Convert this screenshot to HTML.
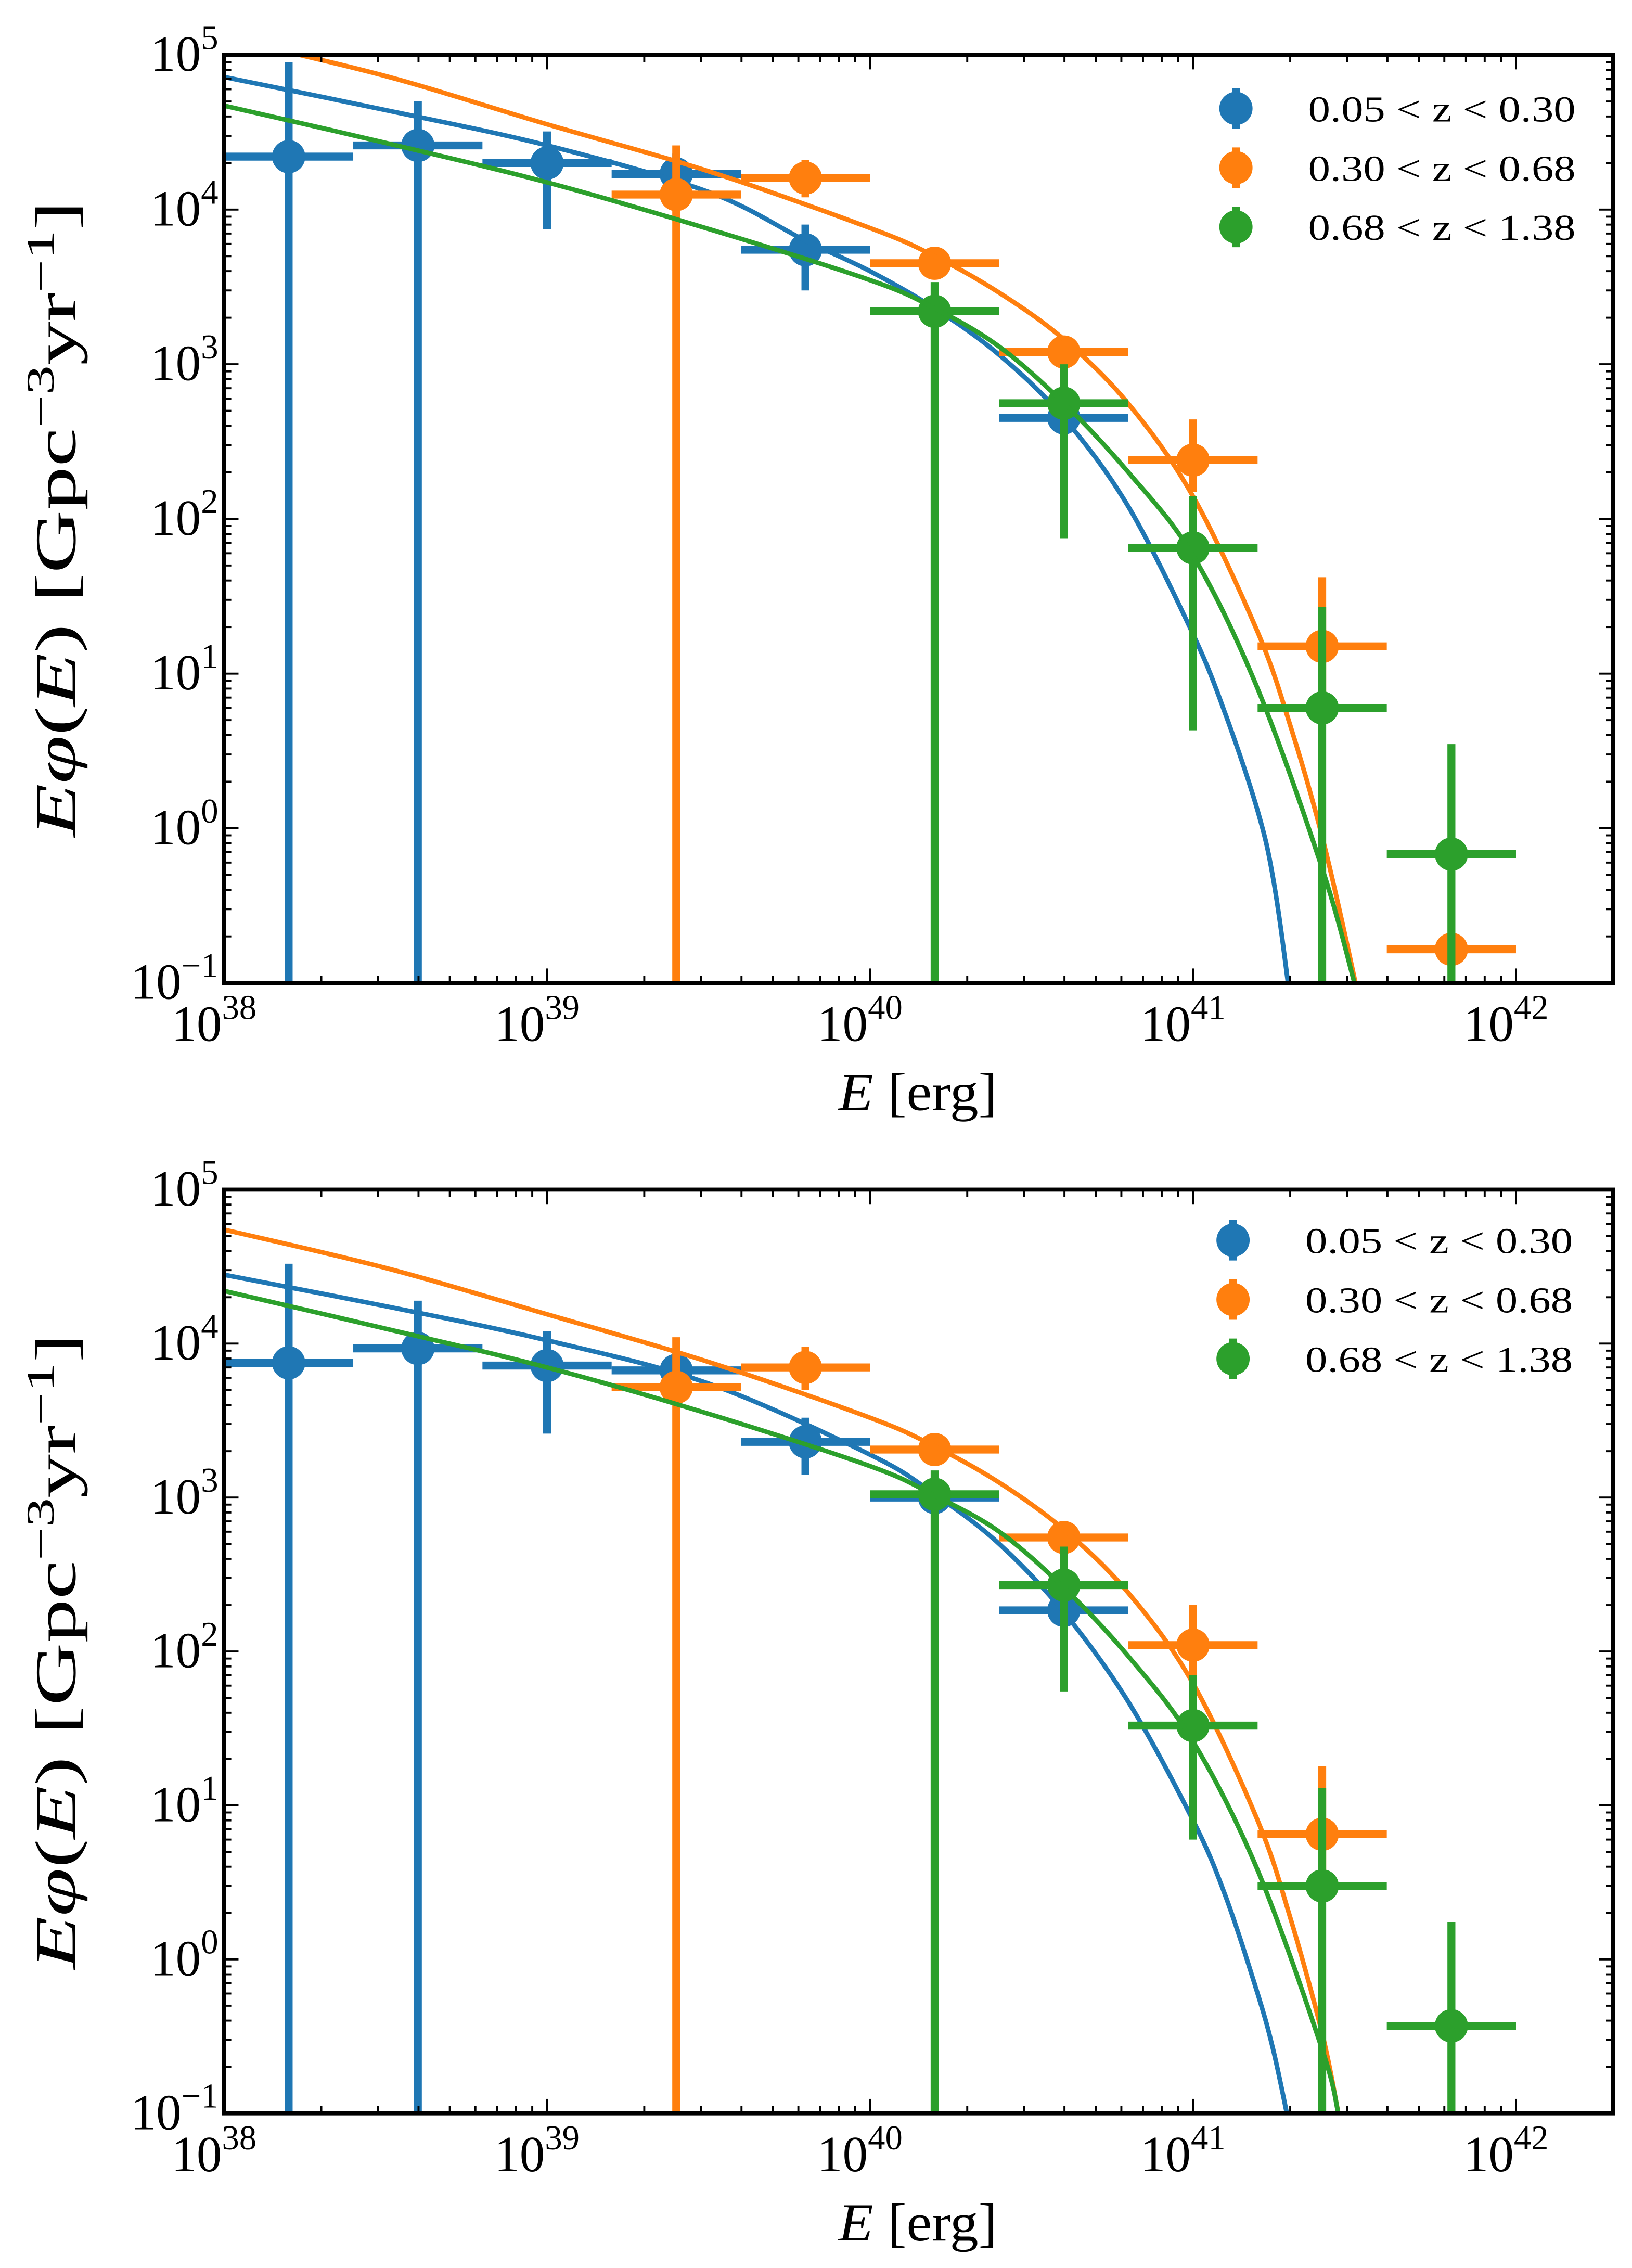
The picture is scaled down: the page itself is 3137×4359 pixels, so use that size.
<!DOCTYPE html>
<html><head><meta charset="utf-8"><style>
html,body{margin:0;padding:0;background:#fff;}
svg{display:block;}
text{font-family:"Liberation Serif","DejaVu Serif",serif;fill:#000;}
</style></head><body>
<svg id="fig" width="3137" height="4359" viewBox="0 0 1129 1569" preserveAspectRatio="none" xmlns="http://www.w3.org/2000/svg"></svg>
<script>
// ---------- data ----------
const binCenters = [38.2, 38.6, 39.0, 39.4, 39.8, 40.2, 40.6, 41.0, 41.4, 41.8];
const binHalfWidth = 0.2;
const seriesNames = ["0.05 < z < 0.30", "0.30 < z < 0.68", "0.68 < z < 1.38"];
const colors = ["#1f77b4", "#ff7f0e", "#2ca02c"];
// points: [binIndex, value, upper, lower]  (lower 0 => off axis)
const topBlue = [[0,2.2e4,9e4,0],[1,2.6e4,5e4,0],[2,2.0e4,3.2e4,7.5e3],[3,1.7e4,2.3e4,1.2e4],[4,5.5e3,8e3,3e3],[6,450,600,350]];
const topOrange = [[3,1.25e4,2.6e4,0],[4,1.6e4,2.1e4,1.2e4],[5,4.5e3,5.5e3,3.6e3],[6,1.2e3,1.5e3,950],[7,240,440,150],[8,15,42,6],[9,0.165,0.2,0.13]];
const topGreen = [[5,2.2e3,3.4e3,0],[6,560,1000,75],[7,65,140,4.3],[8,6,27,0],[9,0.68,3.5,0]];
const botBlue = [[0,7.5e3,3.3e4,0],[1,9.3e3,1.9e4,0],[2,7.2e3,1.2e4,2.6e3],[3,6.7e3,9e3,4.5e3],[4,2.3e3,3.3e3,1.4e3],[5,1e3,1.3e3,800],[6,185,260,130]];
const botOrange = [[3,5.2e3,1.1e4,0],[4,7e3,9.5e3,5e3],[5,2.05e3,2.5e3,1.7e3],[6,550,700,430],[7,110,200,60],[8,6.5,18,2.5]];
const botGreen = [[5,1.05e3,1.5e3,0],[6,270,480,55],[7,33,70,6],[8,3,13,0],[9,0.37,1.75,0]];
// fitted curves sampled (log10 E, value)
const curveX_topBlue = [38,38.5,39,39.5,39.8,40,40.2,40.4,40.6,40.8,41.0,41.1,41.2,41.25,41.3,41.35];
const curveY_topBlue = [7.2e4,4.4e4,2.6e4,1.3e4,6.3e3,4.0e3,2.3e3,1.15e3,450,120,18,5.5,1.3,0.45,0.08,0.01];
const curveX_topOrange = [38,38.5,39,39.5,40,40.2,40.4,40.6,40.8,41.0,41.2,41.3,41.4,41.5,41.55];
const curveY_topOrange = [1.3e5,7.3e4,3.56e4,1.77e4,7.6e3,5.0e3,2.9e3,1.45e3,555,140,18.6,4.7,0.88,0.107,0.031];
const curveX_topGreen = [38,38.5,39,39.5,40,40.2,40.4,40.6,40.8,41.0,41.2,41.4,41.5];
const curveY_topGreen = [4.7e4,2.7e4,1.5e4,7.5e3,3.5e3,2.3e3,1.3e3,560,200,58,8,0.55,0.1];
const curveX_botBlue = [38,38.5,39,39.5,40,40.2,40.4,40.6,40.8,41.0,41.1,41.2,41.25,41.3];
const curveY_botBlue = [2.8e4,1.75e4,1.05e4,5.5e3,1.9e3,1.05e3,500,180,47,8,2.6,0.6,0.25,0.08];
const curveX_botOrange = [38,38.5,39,39.5,40,40.2,40.4,40.6,40.8,41.0,41.2,41.3,41.4,41.45];
const curveY_botOrange = [5.5e4,3.1e4,1.55e4,7.6e3,3.3e3,2.15e3,1.25e3,620,240,62,8,1.9,0.33,0.1];
const curveX_botGreen = [38,38.5,39,39.5,40,40.2,40.4,40.6,40.8,41.0,41.2,41.4,41.45];
const curveY_botGreen = [2.2e4,1.25e4,7e3,3.5e3,1.6e3,1.03e3,600,260,93,26,3.8,0.26,0.1];
const xTickExps = [38,39,40,41,42];
const yTickExps = [-1,0,1,2,3,4,5];

const NS = "http://www.w3.org/2000/svg";
const svg = document.getElementById('fig');
function el(tag, attrs, parent){ const e=document.createElementNS(NS,tag); for(const k in attrs) e.setAttribute(k,attrs[k]); (parent||svg).appendChild(e); return e; }

function panel(p){
  const L=155, R=1116, T=p.T, B=p.B;
  const xmin=38, xmax=Math.log10(2e42), ymin=-1, ymax=5;
  const X = lx => L + (lx-xmin)/(xmax-xmin)*(R-L);
  const Y = v => B - (Math.log10(v)-ymin)/(ymax-ymin)*(B-T);
  const g = el('g',{});
  
  
  const cid = 'clip'+p.name;
  const defs = el('defs',{},g);
  const cp = el('clipPath',{id:cid},defs);
  el('rect',{x:L,y:T,width:R-L,height:B-T},cp);
  const plot = el('g',{'clip-path':'url(#'+cid+')'},g);
  
  

  const pts=[p.blue,p.orange,p.green];
  const cx=[p.cxB,p.cxO,p.cxG], cy=[p.cyB,p.cyO,p.cyG];
  for(let s=0;s<3;s++){
    const sg = el('g',{},plot);
    
    
    for(const [i,v,up,lo] of pts[s]){
      const lx = binCenters[i];
      const x = X(lx);
      const yt = Y(up), yb = lo>0 ? Y(lo) : B+20;
      const eb = el('line',{x1:x,y1:yt,x2:x,y2:yb,stroke:colors[s],'stroke-width':5.5},sg);
      
      
      const hb = el('line',{x1:X(lx-binHalfWidth),y1:Y(v),x2:X(lx+binHalfWidth),y2:Y(v),stroke:colors[s],'stroke-width':5.5},sg);
      
      
      const c = el('circle',{cx:x,cy:Y(v),r:11.5,fill:colors[s]},sg);
      
      
    }
    const xs=cx[s], ys=cy[s];
    const P = xs.map((lx,k)=>[X(lx),Y(ys[k])]);
    let d='M'+P[0][0]+','+P[0][1];
    for(let k=0;k<P.length-1;k++){
      const p0=P[Math.max(0,k-1)],p1=P[k],p2=P[k+1],p3=P[Math.min(P.length-1,k+2)];
      const c1=[p1[0]+(p2[0]-p0[0])/6,p1[1]+(p2[1]-p0[1])/6];
      const c2=[p2[0]-(p3[0]-p1[0])/6,p2[1]-(p3[1]-p1[1])/6];
      d+=' C'+c1[0]+','+c1[1]+' '+c2[0]+','+c2[1]+' '+p2[0]+','+p2[1];
    }
    const path = el('path',{d:d,fill:'none',stroke:colors[s],'stroke-width':3.2},sg);
    
    
  }

  const tg = el('g',{stroke:'#000','stroke-width':1.4},g);
  
  
  for(let e=38;e<=42;e++){
    for(let m=1;m<10;m++){
      const lx=e+Math.log10(m); if(lx>xmax) break;
      const x=X(lx), len = m===1?10:5;
      el('line',{x1:x,y1:B,x2:x,y2:B-len},tg);
      el('line',{x1:x,y1:T,x2:x,y2:T+len},tg);
    }
  }
  for(let e=-1;e<=5;e++){
    for(let m=1;m<10;m++){
      const lv=e+Math.log10(m); if(lv>5) break;
      const y=B-(lv-ymin)/(ymax-ymin)*(B-T), len=m===1?10:5;
      el('line',{x1:L,y1:y,x2:L+len,y2:y},tg);
      el('line',{x1:R,y1:y,x2:R-len,y2:y},tg);
    }
  }
  const frame = el('rect',{x:L,y:T,width:R-L,height:B-T,fill:'none',stroke:'#000','stroke-width':2.8},g);
  
  

  for(const e of xTickExps){
    const t = el('text',{x:X(e)-7,y:B+40,'font-size':35,'text-anchor':'middle'},g);
    
    
    t.textContent='10';
    const s = el('tspan',{dy:-15,'font-size':24},t); s.textContent=String(e);
  }
  for(const e of yTickExps){
    const y = B-(e-ymin)/(ymax-ymin)*(B-T);
    const t = el('text',{x:L-4,y:y+11,'font-size':35,'text-anchor':'end'},g);
    
    
    t.textContent='10';
    const s = el('tspan',{dy:-15,'font-size':24},t); s.textContent=e<0?'\u2212'+(-e):String(e);
  }
  const xl = el('text',{x:635,y:B+88,'font-size':37,'text-anchor':'middle',textLength:110,lengthAdjust:'spacingAndGlyphs'},g);
  
  
  xl.innerHTML='<tspan font-style="italic">E</tspan> [erg]';
  const yl = el('text',{x:0,y:0,'font-size':40,'text-anchor':'middle',textLength:440,lengthAdjust:'spacingAndGlyphs',transform:'translate(52,'+((T+B)/2)+') rotate(-90)'},g);
  
  
  yl.innerHTML='<tspan font-style="italic">E\u03C6</tspan>(<tspan font-style="italic">E</tspan>) [Gpc<tspan dy="-15" font-size="27">\u22123</tspan><tspan dy="15">yr</tspan><tspan dy="-15" font-size="27">\u22121</tspan><tspan dy="15">]</tspan>';

  const lg = el('g',{},g);
  
  
  for(let s=0;s<3;s++){
    const y = T+p.legTop+s*41;
    const en = el('g',{},lg);
    
    
    el('line',{x1:p.legX,y1:y-14,x2:p.legX,y2:y+14,stroke:colors[s],'stroke-width':5.5},en);
    el('circle',{cx:p.legX,cy:y,r:11.5,fill:colors[s]},en);
    const t = el('text',{x:p.legX+50,y:y+9,'font-size':25,textLength:185,lengthAdjust:'spacingAndGlyphs'},en);
    t.textContent=seriesNames[s];
  }
}

panel({name:'top-panel',T:38,B:680,legX:855,legTop:37,
  blue:topBlue,orange:topOrange,green:topGreen,
  cxB:curveX_topBlue,cyB:curveY_topBlue,cxO:curveX_topOrange,cyO:curveY_topOrange,cxG:curveX_topGreen,cyG:curveY_topGreen});
panel({name:'bottom-panel',T:823,B:1462,legX:853,legTop:35,
  blue:botBlue,orange:botOrange,green:botGreen,
  cxB:curveX_botBlue,cyB:curveY_botBlue,cxO:curveX_botOrange,cyO:curveY_botOrange,cxG:curveX_botGreen,cyG:curveY_botGreen});
</script>
</body></html>
